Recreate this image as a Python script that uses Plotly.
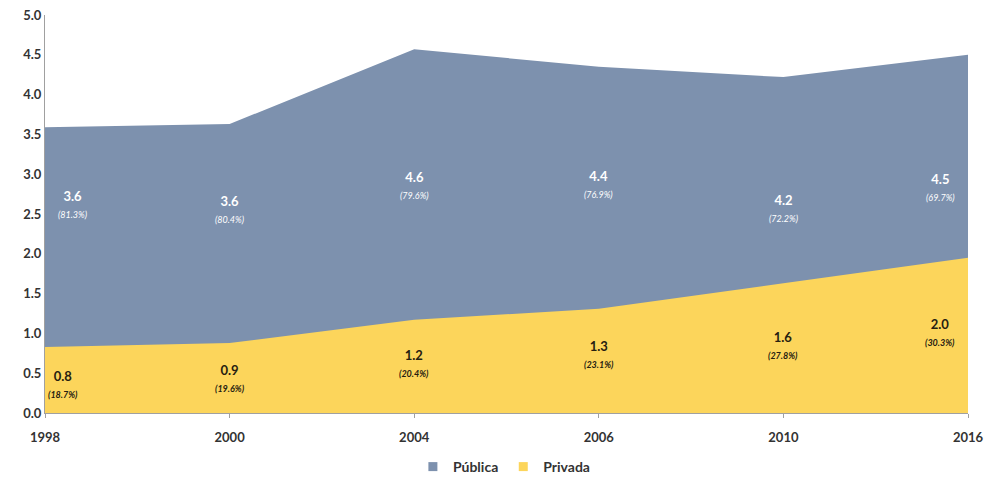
import plotly.graph_objects as go

years = ["1998", "2000", "2004", "2006", "2010", "2016"]
publica = [3.59, 3.63, 4.57, 4.35, 4.22, 4.50]
privada = [0.83, 0.88, 1.17, 1.31, 1.63, 1.95]
publica_lbl = ["3.6", "3.6", "4.6", "4.4", "4.2", "4.5"]
publica_pct = ["81.3%", "80.4%", "79.6%", "76.9%", "72.2%", "69.7%"]
privada_lbl = ["0.8", "0.9", "1.2", "1.3", "1.6", "2.0"]
privada_pct = ["18.7%", "19.6%", "20.4%", "23.1%", "27.8%", "30.3%"]

BLUE = "#7d91ae"
YELLOW = "#fcd55b"
FONT = "Lato"

fig = go.Figure()
fig.add_trace(go.Scatter(x=years, y=publica, name="Pública", mode="lines",
                         line=dict(width=0, color=BLUE), fill="tozeroy",
                         fillcolor=BLUE, showlegend=False))
fig.add_trace(go.Scatter(x=years, y=privada, name="Privada", mode="lines",
                         line=dict(width=0, color=YELLOW), fill="tozeroy",
                         fillcolor=YELLOW, showlegend=False))
# legend entries with square symbols
for nm, col in (("Pública", BLUE), ("Privada", YELLOW)):
    fig.add_trace(go.Scatter(x=[None], y=[None], name=f"<b>{nm}</b>", mode="markers",
                             marker=dict(symbol="square", size=9, color=col)))

# label placement (pixel-derived positions)
pub_pos_x = [0.15, 0.0, 0.0, 0.0, 0.0, -0.15]
pub_pos_y = [2.62, 2.56, 2.86, 2.88, 2.58, 2.84]
pri_pos_x = [0.1, 0.0, 0.0, 0.0, 0.0, -0.15]
pri_pos_y = [0.37, 0.44, 0.63, 0.74, 0.86, 1.02]

annotations = []
for i in range(len(years)):
    annotations.append(dict(
        x=i + pub_pos_x[i], y=pub_pos_y[i], xref="x", yref="y", showarrow=False,
        text=f"<b>{publica_lbl[i]}</b><br><i><span style='font-size:9px'>({publica_pct[i]})</span></i>",
        font=dict(family=FONT, size=13, color="white"), align="center"))
    annotations.append(dict(
        x=i + pri_pos_x[i], y=pri_pos_y[i], xref="x", yref="y", showarrow=False,
        text=f"<b>{privada_lbl[i]}</b><br><b><i><span style='font-size:9px'>({privada_pct[i]})</span></i></b>",
        font=dict(family=FONT, size=13, color="#262010"), align="center"))

fig.update_layout(
    width=989, height=481,
    margin=dict(l=45, r=21, t=15, b=68),
    plot_bgcolor="white", paper_bgcolor="white",
    font=dict(family=FONT, size=13, color="#333333"),
    showlegend=True,
    legend=dict(orientation="h", x=0.51, xanchor="center", xref="container",
                y=1 - 467 / 481, yanchor="middle", yref="container",
                font=dict(family=FONT, size=14, color="#333333"),
                itemwidth=30, tracegroupgap=0),
    annotations=annotations,
    xaxis=dict(type="category", range=[0, 5], showgrid=False, showline=True,
               linecolor="#a0a0a0", linewidth=1, ticks="outside", ticklen=4,
               tickcolor="#a0a0a0", tickfont=dict(family=FONT, size=13, color="#333333"),
               ticklabelstandoff=8, zeroline=False, automargin=False),
    yaxis=dict(range=[0, 5], dtick=0.5, tickformat=".1f", showgrid=False,
               showline=True, linecolor="#a0a0a0", linewidth=1, ticks="",
               tickfont=dict(family=FONT, size=13, color="#333333"), zeroline=False,
               automargin=False),
)
fig.update_xaxes(tickprefix="<b>", ticksuffix="</b>")
fig.update_yaxes(tickprefix="<b>", ticksuffix="</b>")

fig.write_html("out.html")
